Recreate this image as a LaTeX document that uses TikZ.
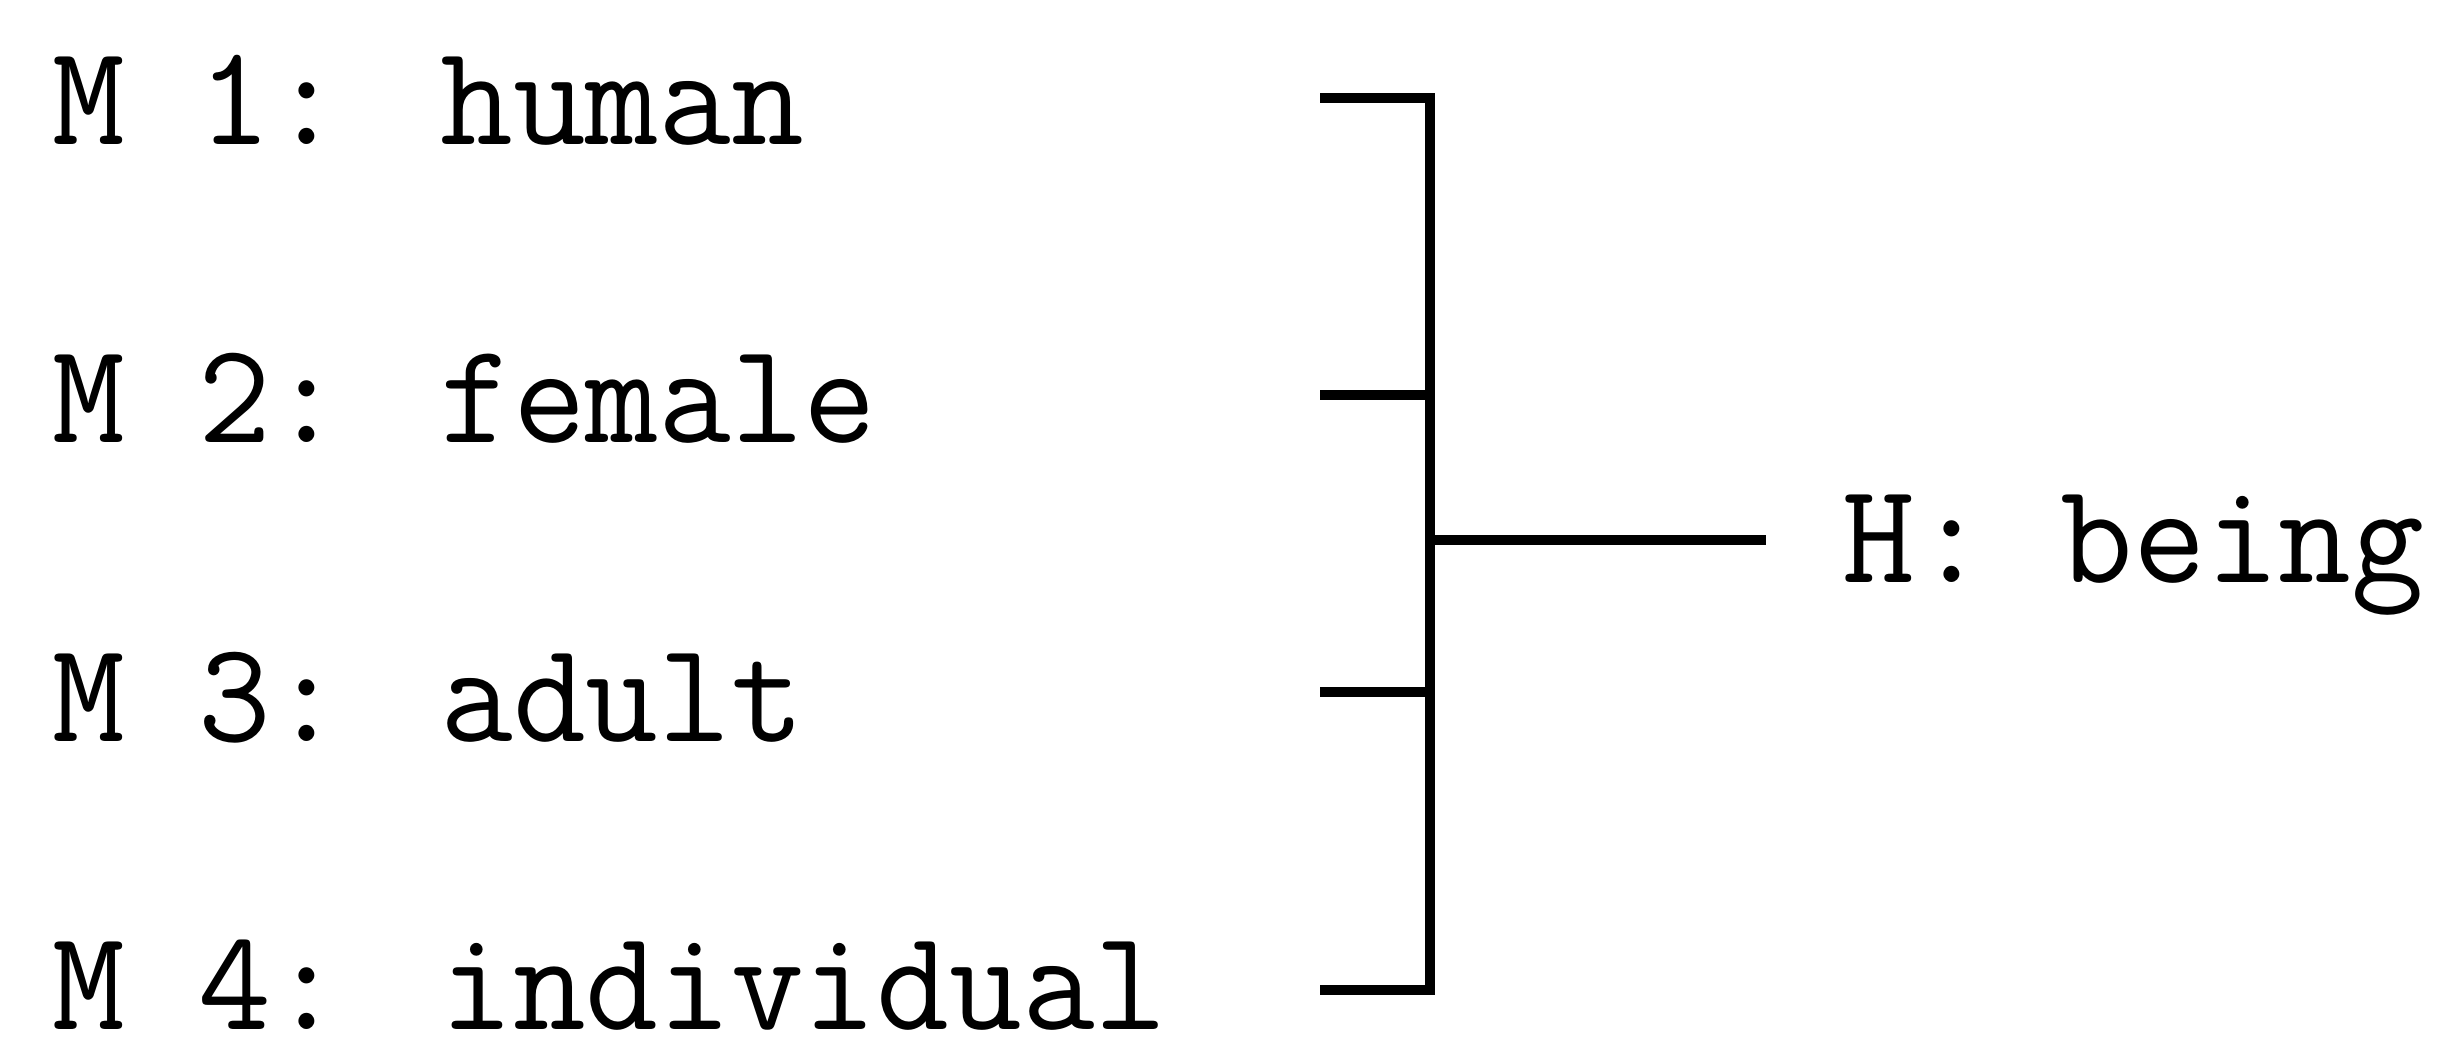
\documentclass[tikz,border=0pt]{standalone}
\newcommand\narrowtxt[1]{\scalebox{0.985}[1]{#1}}
\begin{document}
\begin{tikzpicture}[x=0.3pt,y=0.3pt,
  lbl/.style={font=\fontsize{43}{50}\selectfont\ttfamily, inner sep=0pt, anchor=base west},
  conn/.style={line width=3pt, line join=miter}]
\useasboundingbox (0,0) rectangle (2451,1057);
% labels
\node[lbl] (m1) at (52,912) {\narrowtxt{M 1: human}};
\node[lbl] (m2) at (52,614) {\narrowtxt{M 2: female}};
\node[lbl] (m3) at (52,316) {\narrowtxt{M 3: adult}};
\node[lbl] (m4) at (52,28) {\narrowtxt{M 4: individual}};
\node[lbl] (h) at (1842,474) {\narrowtxt{H: being}};
% bracket points
\coordinate (t1) at (1320,959);
\coordinate (t2) at (1320,662);
\coordinate (t3) at (1320,365);
\coordinate (t4) at (1320,67);
\coordinate (b1) at (1430,959);
\coordinate (b2) at (1430,662);
\coordinate (b3) at (1430,365);
\coordinate (b4) at (1430,67);
\coordinate (j) at (1430,517);
\coordinate (e) at (1766,517);
% connectors
\draw[conn] (t1) -- (b1) -- (b4) -- (t4);
\draw[conn] (t2) -- (b2);
\draw[conn] (t3) -- (b3);
\draw[conn] (j) -- (e);
\end{tikzpicture}
\end{document}
